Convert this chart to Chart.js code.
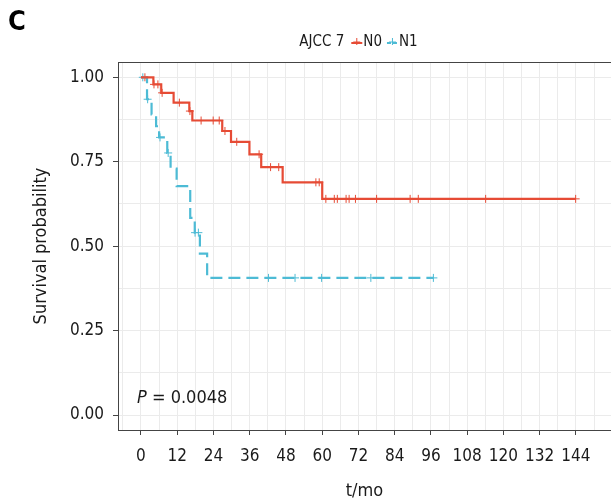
<!DOCTYPE html>
<html><head><meta charset="utf-8">
<script src="https://cdn.jsdelivr.net/npm/chart.js@4.4.1/dist/chart.umd.min.js"></script>
<style>html,body{margin:0;padding:0;background:#fff;overflow:hidden}
#wrap{position:relative;width:611px;height:502px;overflow:hidden}</style>
</head><body><div id="wrap"><canvas id="c" width="616" height="502"></canvas></div>
<script>
const FONT = "'DejaVu Sans Condensed', 'DejaVu Sans', sans-serif";

// N0 (red): event times (months) and survival probability after each step
const n0Times = [0, 4.1, 6.7, 10.8, 16.0, 17.0, 26.9, 29.8, 35.9, 39.8, 46.9, 60.0, 144];
const n0Surv  = [1, 0.979, 0.954, 0.925, 0.90, 0.872, 0.841, 0.809, 0.772, 0.734, 0.689, 0.640, 0.640];
const n0Censor = [1.3, 4.3, 5.6, 7.0, 12.7, 16.2, 19.9, 23.9, 25.9, 27.8, 31.7, 39.1, 42.9, 45.6, 57.9, 59.0,
                  61.2, 64.0, 65.0, 67.9, 68.9, 71.0, 78.0, 89.1, 91.8, 114.1, 143.9];

// N1 (blue)
const n1Times = [0, 2.0, 3.5, 5.0, 6.0, 8.7, 9.8, 11.8, 16.3, 17.8, 19.5, 21.9, 96.8];
const n1Surv  = [1, 0.935, 0.89, 0.855, 0.822, 0.776, 0.73, 0.678, 0.584, 0.54, 0.478, 0.406, 0.406];
const n1Censor = [0.6, 2.2, 6.3, 9.0, 17.9, 19.0, 42.2, 51.0, 59.8, 76.1, 96.8];

const xTickLabels = [0, 12, 24, 36, 48, 60, 72, 84, 96, 108, 120, 132, 144];
const yTickLabels = [0, 0.25, 0.5, 0.75, 1];
const groupNames = ['N0', 'N1'];
const groupColors = ['#E64B35', '#4DBBD5'];
const legendTitle = 'AJCC 7';
const pValue = '0.0048';
const panelLabel = 'C';

function curve(times, surv) { return times.map((t, i) => ({x: t, y: surv[i]})); }
function survAt(times, surv, t) {
  let s = surv[0];
  for (let i = 0; i < times.length; i++) { if (times[i] <= t) s = surv[i]; }
  return s;
}
function censorPts(times, surv, cens) { return cens.map(t => ({x: t, y: survAt(times, surv, t)})); }

const xMinor = [];
for (let v = -6; v <= 150; v += 6) xMinor.push(v);
const yMinor = [];
for (let v = 0; v <= 1.0001; v += 0.125) yMinor.push(Math.round(v * 1000) / 1000);

const isXMajor = v => xTickLabels.includes(v);
const isYMajor = v => yTickLabels.some(t => Math.abs(t - v) < 1e-6);
const TXT = '#1a1a1a';

const decor = {
  id: 'decor',
  afterDraw(chart) {
    const ctx = chart.ctx, a = chart.chartArea;
    const xs = chart.scales.x, ys = chart.scales.y;
    ctx.save();
    // top panel border
    ctx.strokeStyle = '#444'; ctx.lineWidth = 1;
    ctx.beginPath(); ctx.moveTo(a.left, a.top + 0.5); ctx.lineTo(chart.width, a.top + 0.5); ctx.stroke();

    // panel label
    ctx.fillStyle = '#000';
    ctx.font = `bold 27px ${FONT}`;
    ctx.textBaseline = 'alphabetic'; ctx.textAlign = 'left';
    ctx.fillText(panelLabel, 8, 30);

    // p value
    const px = xs.getPixelForValue(-1.3), py = ys.getPixelForValue(0.05);
    ctx.fillStyle = TXT;
    ctx.textBaseline = 'middle';
    ctx.font = `italic 18px ${FONT}`;
    ctx.fillText('P', px, py);
    const wP = ctx.measureText('P').width;
    ctx.font = `18px ${FONT}`;
    ctx.fillText(' = ' + pValue, px + wP, py);

    // legend
    ctx.font = `15px ${FONT}`;
    const symW = 11, g1 = 7, g2 = 1, g3 = 5;
    const wT = ctx.measureText(legendTitle).width;
    const wL = groupNames.map(n => ctx.measureText(n).width);
    const total = wT + g1 + (symW + g2 + wL[0]) + g3 + (symW + g2 + wL[1]);
    let x = 358.5 - total / 2;
    const ly = 42;
    ctx.fillStyle = TXT;
    ctx.textBaseline = 'middle';
    ctx.fillText(legendTitle, x, ly);
    x += wT + g1;
    groupNames.forEach((n, i) => {
      ctx.strokeStyle = groupColors[i];
      ctx.lineWidth = 2;
      ctx.setLineDash(i === 1 ? [4, 2] : []);
      ctx.beginPath(); ctx.moveTo(x, ly + 1); ctx.lineTo(x + symW, ly + 1); ctx.stroke();
      ctx.setLineDash([]);
      ctx.lineWidth = 1;
      const cx = x + symW / 2;
      ctx.beginPath();
      ctx.moveTo(cx - 3.5, ly); ctx.lineTo(cx + 3.5, ly);
      ctx.moveTo(cx, ly - 4); ctx.lineTo(cx, ly + 3);
      ctx.stroke();
      ctx.fillStyle = TXT;
      ctx.fillText(n, x + symW + g2, ly);
      x += symW + g2 + wL[i] + g3;
    });
    ctx.restore();
  }
};

new Chart(document.getElementById('c'), {
  type: 'scatter',
  data: {
    datasets: [
      {label: groupNames[0], data: curve(n0Times, n0Surv), showLine: true, stepped: 'before',
       borderColor: groupColors[0], borderWidth: 2.2, pointRadius: 0, fill: false},
      {label: groupNames[1], data: curve(n1Times, n1Surv), showLine: true, stepped: 'before',
       borderColor: groupColors[1], borderWidth: 2.2, borderDash: [12, 6], pointRadius: 0, fill: false},
      {label: groupNames[0] + ' censored', data: censorPts(n0Times, n0Surv, n0Censor), showLine: false,
       pointStyle: 'cross', pointRadius: 4, borderColor: groupColors[0], borderWidth: 1},
      {label: groupNames[1] + ' censored', data: censorPts(n1Times, n1Surv, n1Censor), showLine: false,
       pointStyle: 'cross', pointRadius: 4, borderColor: groupColors[1], borderWidth: 1}
    ]
  },
  options: {
    responsive: false,
    animation: false,
    devicePixelRatio: 1,
    layout: {padding: {top: 62, left: 0, right: 0, bottom: 0}},
    plugins: {legend: {display: false}, tooltip: {enabled: false}},
    scales: {
      x: {
        type: 'linear', min: -7.61, max: 155.6,
        afterBuildTicks: s => { s.ticks = xMinor.map(v => ({value: v})); },
        afterFit: s => { s.height = 72; s.paddingLeft = 0; s.paddingRight = 0; },
        ticks: {
          autoSkip: false, maxRotation: 0, padding: 11,
          font: {family: FONT, size: 17}, color: TXT,
          callback: v => isXMajor(v) ? String(v) : ''
        },
        grid: {
          color: '#EBEBEB', lineWidth: 1, tickLength: 5,
          tickColor: c => isXMajor(c.tick.value) ? '#444' : 'rgba(0,0,0,0)'
        },
        border: {color: '#444', width: 1},
        title: {display: true, text: 't/mo', font: {family: FONT, size: 18}, color: TXT, padding: {top: 3, bottom: 0}}
      },
      y: {
        type: 'linear', min: -0.0444, max: 1.0453,
        afterBuildTicks: s => { s.ticks = yMinor.map(v => ({value: v})); },
        afterFit: s => { s.width = 118; s.paddingTop = 0; s.paddingBottom = 0; },
        ticks: {
          autoSkip: false, padding: 9,
          font: {family: FONT, size: 17}, color: TXT,
          callback: v => isYMajor(v) ? v.toFixed(2) : ''
        },
        grid: {
          color: '#EBEBEB', lineWidth: 1, tickLength: 5,
          tickColor: c => isYMajor(c.tick.value) ? '#444' : 'rgba(0,0,0,0)'
        },
        border: {color: '#444', width: 1},
        title: {display: true, text: 'Survival probability', font: {family: FONT, size: 18}, color: TXT, padding: {top: 31, bottom: 0}}
      }
    }
  },
  plugins: [decor]
});
</script></body></html>
